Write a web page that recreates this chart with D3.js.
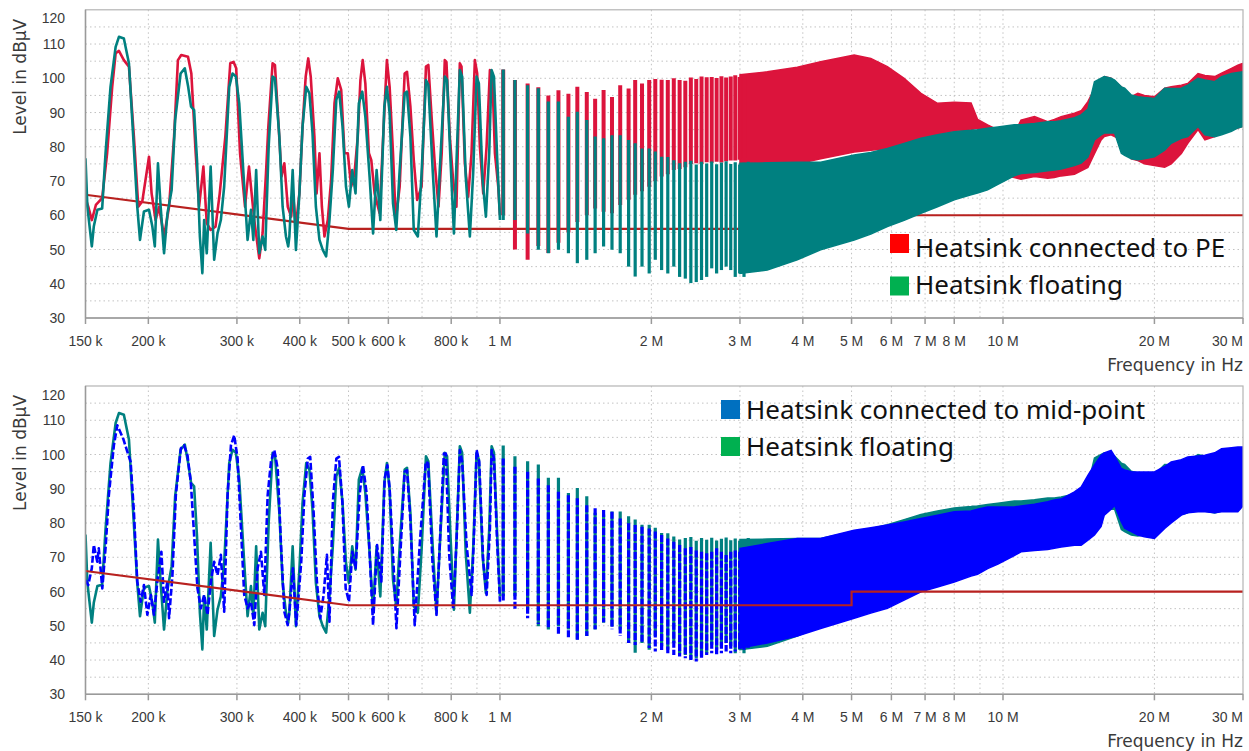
<!DOCTYPE html>
<html>
<head>
<meta charset="utf-8">
<script src="https://cdn.jsdelivr.net/npm/d3@7"></script>
<style>
  body { margin: 0; background: #ffffff; }
  svg { display: block; }
  .grid_line { stroke: #c2c2c2; stroke-width: 1; stroke-dasharray: 1.5 3; }
  .axis_line { stroke: #9a9a9a; stroke-width: 1.5; }
  .text_tick { font-family: "Liberation Sans", Arial, sans-serif; font-size: 14px; fill: #3a3a3a; }
  .text_axis_title { font-family: "DejaVu Sans", sans-serif; font-size: 17px; fill: #3a3a3a; }
  .text_legend { font-family: "Noto Sans", sans-serif; font-size: 26px; fill: #111111; }
</style>
</head>
<body>
<svg id="emi_chart" width="1249" height="751"></svg>
<script>
// ---- data ----
// low band traces: [frequency kHz, level dBuV]
const redLine = [[150,65],[151.9,62.5],[154.4,58.6],[157.3,63],[161.9,65],[165.6,78.1],[169.5,97.5],[172.2,107.3],[174.8,108],[178.8,105.3],[183,103.4],[187.2,83],[191,62.5],[194.5,64],[200.6,77.1],[203,66.4],[206.7,58.6],[210,62.5],[214.9,53.8],[219.9,62.5],[225,83],[229,105.3],[232.5,106.8],[239.8,106.3],[243.5,101.4],[248.4,78.1],[252.3,62.5],[257.3,74.2],[261.3,57.7],[266,55.7],[272,56.7],[277.3,66.4],[284.5,83],[291,104.4],[295.3,104.8],[299,102.9],[304.3,78.1],[311.3,62.5],[317,74.2],[324.8,58.6],[332.3,47.4],[337.4,54.8],[342.7,72.3],[346.4,85.9],[353.2,104.4],[357,103.9],[362.5,87.8],[368,71.3],[372.7,75.2],[378.6,62.5],[384.6,59.6],[388,66],[392.8,56.7],[399.3,66.4],[405.1,85.9],[411,100.5],[415.8,105.8],[420.6,100.5],[427.7,83],[432,66.4],[437.7,78.1],[442.6,62.5],[447.8,53.8],[454.7,58.6],[461.7,70.3],[468.9,92.7],[476,100],[483.5,96.6],[490.9,78.1],[498.4,78.1],[506.1,68.4],[513.9,72.3],[521.6,83],[528,99.5],[533.5,105.3],[540,98.5],[548.9,78.1],[554.9,76.1],[563.4,66.4],[576.4,60.6],[588,87.8],[596,105.3],[603.5,97.5],[612.9,78.1],[620.6,58.6],[631.9,68.4],[646.5,101.4],[653.5,101.9],[663.7,91.7],[674,76.1],[684.5,64.5],[698.6,68.4],[712.7,103.4],[720.5,103.9],[732,87.8],[742,75.2],[754.8,62.5],[766,78.1],[776.8,105.3],[782.7,104.8],[794.9,83],[807,70.3],[819.4,62.5],[832.2,104.4],[838.6,103.4],[851.5,75.2],[864.6,65.4],[878,78.1],[891.5,105.3],[901,101.4],[912.2,80],[926.3,66.4],[940.6,80],[955.1,102.4],[965.3,101.4],[977.3,78.1],[992.2,68.4],[1000,60]];

const tealLine = [[150,76.6],[151.3,62.5],[154.4,50.9],[155.8,56.7],[158.4,61.6],[161.9,62],[164.4,78.1],[168.2,97.5],[172.2,109.2],[174.8,112.1],[178.8,111.6],[183,104.4],[185.8,87.8],[190.1,62.5],[192.5,52.8],[196,61.1],[200.6,61.6],[203.7,56.7],[206,50.9],[209,75.2],[211.6,62.5],[214.9,48.9],[218.3,60.6],[222.5,67.4],[226.1,87.8],[231.8,101.4],[236.3,102.9],[240,97.5],[243.2,91.7],[246.6,90.7],[249.9,76.1],[253.2,53.8],[256.1,43.1],[258.2,58.6],[261.3,48.9],[266,74.2],[270.3,47],[274.5,54.7],[278.7,58.6],[283,68.4],[289.6,97.5],[294,101.4],[298.6,100.5],[303.2,92.7],[310.2,68.4],[315,52.8],[319.9,61.6],[323.4,52.8],[327.6,73.2],[332.3,48.9],[337.4,53.8],[341.5,49.9],[346.9,80],[353.2,100.5],[357,100],[364.3,83],[369.8,62.5],[375.5,53.8],[379.4,50.9],[381.4,53.8],[387.2,73.2],[393,49.9],[399.3,66.4],[405.1,85.9],[412,97.5],[418,95.6],[424,84],[430.6,62.5],[437.7,52.8],[444.4,49.9],[451.3,48],[458.2,58.6],[465.3,73.2],[472.8,93.7],[479,96.1],[486.5,85.9],[494.2,68.4],[500.9,62.5],[508.6,73.2],[516.3,66.4],[524.2,92.7],[532.5,96.1],[540,88.8],[550.6,71.3],[559.4,54.7],[568.6,73.2],[578.3,58.6],[589,91.7],[596,97.5],[603.5,89.8],[612.9,63.5],[622.2,55.7],[631.9,73.2],[646.5,95.6],[653.5,96.1],[663.7,83],[674,55.7],[686.7,53.8],[698.6,72.3],[712.7,99.5],[720.5,98],[735.5,72.3],[748,53.8],[759.2,73.2],[776.8,100.5],[785,99.5],[797.4,76.1],[810,54.7],[819.4,75.2],[832.2,102.4],[841,100.5],[855,71.3],[871.3,53.8],[884.6,72.3],[898.5,100.5],[908,98.5],[923.8,70.3],[937.6,59.6],[952,78.1],[962.6,102.4],[972.9,100.5],[987.7,76.1],[1000,58.6]];

const blueLine = [[150,63.4],[151.9,61.9],[154.4,66.8],[155.8,73.6],[158.3,68.7],[159.4,72.6],[162,60.9],[164.6,73.6],[166.9,88.1],[170.8,102.7],[173.5,108.5],[178.2,104.7],[181.5,101],[184.4,97.9],[187.2,83.3],[190.1,62.9],[193.1,57],[196,61.9],[199.1,53.2],[202.3,59],[205.2,53.2],[208.4,62.9],[212.3,71.6],[214.9,57],[218.2,62.9],[219.9,52.2],[223.3,64.8],[226.8,88.1],[232.1,101.8],[235.5,102.7],[239.2,99.8],[242.9,92],[246.6,76.5],[250.4,61],[254.3,55.1],[258.2,59],[262.2,53.2],[266.3,62.9],[270.3,68.7],[274.5,64.8],[278.7,70.7],[283,54.1],[287.4,88.1],[291.9,102.7],[296.3,105.6],[300.9,98.8],[305.6,78.4],[310.2,59],[315,55.1],[319.9,57],[324.8,50.2],[329.8,66.8],[334.9,71.6],[340,59],[345.3,88.1],[350.6,97.9],[356,101.3],[361.5,95.9],[367.1,73.6],[372.7,54.1],[378.5,50.2],[382,55.1],[387.6,66.8],[393.6,50.2],[402.7,68.7],[408.5,88.1],[415,98.8],[419.6,99.3],[426.1,83.3],[432.6,62.9],[439.3,52.2],[446.1,59],[452.9,70.7],[458.2,51.2],[465.5,86.2],[472.9,98.8],[478.6,99.3],[486.1,86.2],[493.5,60.9],[501,57],[508.8,71.6],[516.6,66.8],[525.9,88.1],[534.2,96.9],[542.7,89.1],[550.6,71.6],[559.4,50.2],[569.8,73.6],[581,62.9],[590,93],[597.4,96.9],[603.5,90.1],[614.9,66.8],[622.6,49.3],[634.2,71.6],[646.5,95],[653.6,95.4],[663.9,80.4],[676.9,50.2],[692.6,73.6],[712.1,97.9],[719.7,97.4],[734.2,68.7],[747.9,53.2],[759.2,73.6],[773.5,100.3],[780.7,100.3],[792.7,70.7],[807.2,55.1],[819.7,74.5],[832.2,101.3],[841.1,97.9],[858.4,73.6],[878.4,59],[888.9,78.4],[898.7,101.3],[909.4,97.9],[926.3,68.7],[940.8,59],[955.1,78.4],[962.7,101.3],[972.8,98.8],[987.7,73.6],[1000,57]];

// harmonic spikes 1 - 3 MHz: frequency MHz, then top / bottom level per trace
const combFreq = [1.015,1.071,1.135,1.192,1.248,1.307,1.368,1.425,1.488,1.546,1.607,1.670,1.734,1.802,1.857,1.916,1.980,2.036,2.096,2.156,2.216,2.276,2.336,2.396,2.456,2.516,2.576,2.636,2.696,2.756,2.816,2.876,2.936,2.996,3.056,3.116];
const redCombHi = [102.6,99.5,98.5,97.4,95,96.5,95.5,97.5,96,94,96.6,94.5,98,97,99.5,98.5,99.5,99.8,99.6,99.5,100,99.5,99.3,100.2,99.8,100.5,100.3,100.4,100.1,100.6,100.2,100.5,100.9,100.4,101,101.2];
const redCombLo = [60,50,47,51,49,52,55,58,60,62,61,60.6,63,64.5,66,67,68.3,70,71.3,72,73.2,73.5,74,75,75.2,75,75.5,75.3,75.6,75.4,75.8,76,76,76.2,76.5,76.4];
const tealCombHi = [102.6,99.5,98,97.1,93.2,93.2,88.8,90.2,87.8,83,82.5,83.4,83.4,82,81,79.5,79.5,78.6,77.1,77,76.1,75.2,75.6,75.9,74.8,75.6,75.1,75.7,74.9,75.4,75.8,75.0,75.5,74.8,75.3,75.6];
const tealCombLo = [58.6,58.6,54.7,49.9,48.9,49.9,48.9,46,47,48.9,50.9,49.9,48.9,45,42.1,45,43,47,44,43,45,42,41.5,40.2,40.5,41.1,42,44.5,43,44,45,44,42,43,42,44];
const blueCombHi = [98.8,96.4,95,93,91,89.1,88.1,87.2,85.2,84.3,83.8,83.3,81.3,79.9,79.4,78.9,78.4,77.5,76.5,75.5,74.5,73.6,72.6,73,72,71.6,71.2,71.6,72.6,71.6,70.7,71.6,72,71.6,72.6,72.6];
const blueCombLo = [57,55,52.2,50.5,49.3,47.5,46.3,45.9,47,49,51,49,47,45,44.4,45,43.5,42.5,42.5,42,41.5,41,40.5,40,39.6,40.5,41.5,42,41.5,42,42.5,42,42.5,43,43,43.5];

// dense band 3 - 30 MHz: frequency MHz, upper / lower envelope per trace
const bandFreq = [3.0,3.4,3.9,4.34,5.06,5.46,5.89,6.36,6.87,7.41,8.0,8.64,8.9,9.32,9.77,10.53,10.86,11.55,12.27,12.65,13.05,13.87,14.3,14.75,15.2,15.67,15.9,16.4,16.67,17.19,17.45,17.99,18.54,19.1,20.0,20.96,21.6,22.62,23.3,24.42,25.2,26.36,27.2,28.46,29.3,30];
const redBandHi = [101,101.9,103.2,104.8,106.8,105.8,103.4,100,95.6,92.7,93,92.8,88,86.4,84.9,83.9,87.8,88.8,87.3,88,88.8,89.8,90.5,93.2,97,99.5,100.5,100,99,97.5,96.6,94.6,95.6,95,94.6,97.1,97.5,98,98.5,101.4,100.8,100.5,101.5,102.9,103.8,104.4];
const redBandLo = [74,74.5,75,76.5,78.5,79,79.5,80.5,82,83.5,84.5,85,85.5,72,72,71,70.5,71.3,70.8,71,71.5,72,73,74,78,82,83,83.5,83,82,79,76.5,76,75,74.5,74,75,78,81,85,82,83,84,85,85.5,86];
const tealBandHi = [75.2,75.3,75.5,75.5,77.6,78.3,79.5,81,82.5,83.5,84.4,84.8,85,85.4,85.8,86.4,86.4,86.8,87.3,87.3,87.6,88.5,89.3,91,99,100,100.5,100,99.5,97.5,97.1,95.1,94.6,94.4,94.1,97.1,97,97.1,98,100,99.5,99,100.5,101.4,101.7,101.9];
const tealBandLo = [43,44,47,49.9,52.8,54.5,56.7,58.5,60.6,62.5,64.5,66,66.5,67.4,69,71.5,72.2,72.5,73,73.2,73.5,74.5,75.2,77,82,83.5,84,84,84,78.1,77.5,76.5,76.2,76.5,77.1,79,81,82.5,83,85.9,83.5,82.9,83.5,84.5,85.5,85.9];
const blueBandHi = [72.6,74,75.5,75.5,77.9,78.6,79.4,80.3,81.3,82.3,83.3,83.5,84,84.7,84.7,84.7,85,85.5,86.2,86.7,87,89.1,90.5,93.9,97,99.8,100.5,101.2,99.5,95.9,95.5,95,94.9,94.9,94.9,96.5,97.8,98.5,99.3,99.6,99.8,100.5,101.7,102,102.2,102.2];
const blueBandLo = [43.5,45,47,49.2,52.2,53.7,55.1,57.5,59.9,61.3,62.8,64.5,65,66.7,68,70.5,71.6,72,72.3,72.6,73,73.5,73.5,75,76.5,79,82.3,84,85.2,80.3,78.5,77.5,76.5,76,75.5,78.4,80,82.3,83,83.3,83.3,83,83.3,83.3,83.3,85];

// limit line (MHz, dBuV)
const limitFreq = [0.15, 0.5, 5, 5, 30];
const limitLevel = [66, 56, 56, 60, 60];

// axes
const levelTicks = [30, 40, 50, 60, 70, 80, 90, 100, 110, 120];
const gridLevels = [35, 40, 45, 50, 55, 60, 65, 70, 75, 80, 85, 90, 95, 100, 105, 110, 115];
const freqTicks = [0.15, 0.2, 0.3, 0.4, 0.5, 0.6, 0.8, 1, 2, 3, 4, 5, 6, 7, 8, 10, 20, 30];
const freqTickLabels = ["150 k", "200 k", "300 k", "400 k", "500 k", "600 k", "800 k", "1 M", "2 M", "3 M", "4 M", "5 M", "6 M", "7 M", "8 M", "10 M", "20 M", "30 M"];
const gridFreqs = [0.2, 0.3, 0.4, 0.5, 0.6, 0.7, 0.8, 0.9, 1, 2, 3, 4, 5, 6, 7, 8, 9, 10, 20];

const colorRed = "#dc143c";
const colorTeal = "#008080";
const colorBlue = "#0000ff";
const colorLimit = "#b8211f";

var chart_svg = d3.select("#emi_chart");
var xScale = d3.scaleLog().domain([0.15, 30]).range([85.5, 1243]);

function build_panel(top, bottom, clipId) {
    var g = chart_svg.append("g");
    var y = d3.scaleLinear().domain([30, 120]).range([bottom, top]);
    var left = xScale.range()[0], right = xScale.range()[1];

    chart_svg.append("clipPath").attr("id", clipId)
        .append("rect").attr("x", left).attr("y", top)
        .attr("width", right - left).attr("height", bottom - top);

    g.append("g").selectAll("line").data(gridLevels).enter()
        .append("line").attr("class", "grid_line")
        .attr("x1", left).attr("x2", right)
        .attr("y1", d => y(d)).attr("y2", d => y(d));
    g.append("g").selectAll("line").data(gridFreqs).enter()
        .append("line").attr("class", "grid_line")
        .attr("x1", d => xScale(d)).attr("x2", d => xScale(d))
        .attr("y1", top).attr("y2", bottom);

    var plot = g.append("g").attr("clip-path", "url(#" + clipId + ")");
    return {g: g, plot: plot, y: y, top: top, bottom: bottom};
}

function finish_panel(panel) {
    var g = panel.g, y = panel.y;
    var left = xScale.range()[0], right = xScale.range()[1];

    g.append("rect").attr("x", left).attr("y", panel.top)
        .attr("width", right - left).attr("height", panel.bottom - panel.top)
        .attr("fill", "none").attr("stroke", "#b4b4b4").attr("stroke-width", 1.2);
    g.append("line").attr("class", "axis_line")
        .attr("x1", left).attr("x2", left).attr("y1", panel.top).attr("y2", panel.bottom);
    g.append("line").attr("class", "axis_line")
        .attr("x1", left).attr("x2", right).attr("y1", panel.bottom).attr("y2", panel.bottom);

    g.append("g").selectAll("line").data(freqTicks).enter()
        .append("line").attr("class", "axis_line")
        .attr("x1", d => xScale(d)).attr("x2", d => xScale(d))
        .attr("y1", panel.bottom).attr("y2", panel.bottom + 6);

    g.append("g").selectAll("text").data(freqTicks).enter()
        .append("text").attr("class", "text_tick")
        .attr("x", (d, i) => i == freqTicks.length - 1 ? right : xScale(d))
        .attr("y", panel.bottom + 28)
        .attr("text-anchor", (d, i) => i == freqTicks.length - 1 ? "end" : "middle")
        .text((d, i) => freqTickLabels[i]);

    g.append("g").selectAll("text").data(levelTicks).enter()
        .append("text").attr("class", "text_tick")
        .attr("x", 65)
        .attr("y", d => Math.max(y(d), panel.top + 8.5))
        .attr("dy", "0.36em")
        .attr("text-anchor", "end")
        .text(d => d);

    g.append("text").attr("class", "text_axis_title")
        .attr("x", right).attr("y", panel.bottom + 53)
        .attr("text-anchor", "end")
        .text("Frequency in Hz");
    g.append("text").attr("class", "text_axis_title")
        .attr("transform", "translate(26," + (panel.top + 67) + ") rotate(-90)")
        .attr("text-anchor", "middle")
        .text("Level in dBµV");
}

function draw_trace(panel, data, color, dash) {
    var line = d3.line()
        .x(d => xScale(d[0] / 1000))
        .y(d => panel.y(d[1]));
    panel.plot.append("path").datum(data)
        .attr("d", line)
        .attr("fill", "none")
        .attr("stroke", color)
        .attr("stroke-width", 2.6)
        .attr("stroke-linejoin", "round")
        .attr("stroke-dasharray", dash);
}

function draw_comb(panel, hi, lo, color, width, dash) {
    panel.plot.append("g").selectAll("line").data(combFreq).enter()
        .append("line")
        .attr("x1", d => xScale(d)).attr("x2", d => xScale(d))
        .attr("y1", (d, i) => panel.y(hi[i]))
        .attr("y2", (d, i) => panel.y(lo[i]))
        .attr("stroke", color)
        .attr("stroke-width", width)
        .attr("stroke-dasharray", dash);
}

function draw_band(panel, hi, lo, color) {
    var area = d3.area()
        .x(d => xScale(d))
        .y0((d, i) => panel.y(lo[i]))
        .y1((d, i) => panel.y(hi[i]));
    panel.plot.append("path").datum(bandFreq)
        .attr("d", area)
        .attr("fill", color)
        .attr("stroke", color)
        .attr("stroke-width", 1.5);
}

function draw_limit(panel) {
    var line = d3.line()
        .x((d, i) => xScale(d))
        .y((d, i) => panel.y(limitLevel[i]));
    panel.plot.append("path").datum(limitFreq)
        .attr("d", line)
        .attr("fill", "none")
        .attr("stroke", colorLimit)
        .attr("stroke-width", 2.2);
}

function draw_legend(x, entries) {
    var g = chart_svg.append("g");
    entries.forEach(function(entry) {
        g.append("rect").attr("x", x).attr("y", entry.boxY)
            .attr("width", 19).attr("height", 19)
            .attr("fill", entry.color);
        g.append("text").attr("class", "text_legend")
            .attr("x", x + 25).attr("y", entry.baseline)
            .text(entry.label);
    });
}

// ---- top panel: PE vs floating ----
var topPanel = build_panel(9.8, 318, "clip_top");
draw_limit(topPanel);
draw_band(topPanel, redBandHi, redBandLo, colorRed);
draw_comb(topPanel, redCombHi, redCombLo, colorRed, 4, null);
draw_trace(topPanel, redLine, colorRed, null);
draw_band(topPanel, tealBandHi, tealBandLo, colorTeal);
draw_comb(topPanel, tealCombHi, tealCombLo, colorTeal, 3.2, null);
draw_trace(topPanel, tealLine, colorTeal, null);
finish_panel(topPanel);
draw_legend(890, [
    {color: "#ff0000", label: "Heatsink connected to PE", boxY: 234, baseline: 256.5},
    {color: "#00b050", label: "Heatsink floating", boxY: 276.5, baseline: 293.5}
]);

// ---- bottom panel: mid-point vs floating ----
var bottomPanel = build_panel(386, 694.3, "clip_bottom");
draw_band(bottomPanel, tealBandHi, tealBandLo, colorTeal);
draw_comb(bottomPanel, tealCombHi, tealCombLo, colorTeal, 3.2, null);
draw_trace(bottomPanel, tealLine, colorTeal, null);
draw_band(bottomPanel, blueBandHi, blueBandLo, colorBlue);
draw_comb(bottomPanel, blueCombHi, blueCombLo, colorBlue, 3.2, "7 2");
draw_trace(bottomPanel, blueLine, colorBlue, "7 2.5");
draw_limit(bottomPanel);
finish_panel(bottomPanel);
draw_legend(721, [
    {color: "#0070c0", label: "Heatsink connected to mid-point", boxY: 400, baseline: 419},
    {color: "#00b050", label: "Heatsink floating", boxY: 437, baseline: 456}
]);
</script>
</body>
</html>
